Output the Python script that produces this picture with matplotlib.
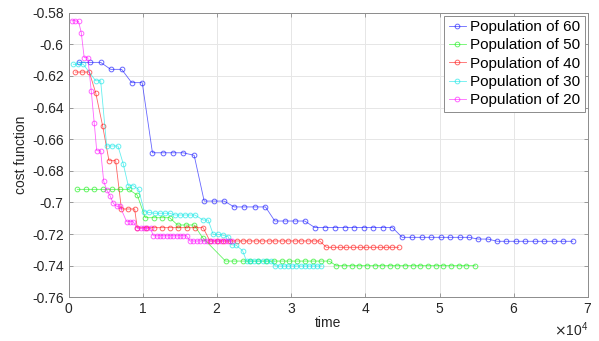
import matplotlib
matplotlib.use("Agg")
import matplotlib.pyplot as plt
from matplotlib.ticker import ScalarFormatter

plt.rcParams['font.family'] = ['Liberation Sans', 'DejaVu Sans']

# time values and cost function per population size
pop60_time = [1410, 2890, 4330, 5680, 7160, 8510, 9930, 11310, 12680, 14110, 15450, 16930,
              18280, 19630, 20970, 22320, 23660, 25100, 26540, 27800, 29140, 30490, 31830,
              33180, 34530, 35870, 37220, 38470, 39820, 41050, 42370, 43640, 44960, 46280,
              47580, 48860, 50140, 51420, 52700, 53950, 55210, 56510, 57770, 59020, 60330,
              61580, 62830, 64140, 65390, 66650, 67950]
pop60_cost = [-0.6115, -0.6115, -0.6115, -0.6159, -0.6159, -0.6243, -0.6243, -0.6686, -0.6686,
              -0.6686, -0.6686, -0.6702, -0.6991, -0.6991, -0.6991, -0.7028, -0.7028, -0.7028,
              -0.7028, -0.7117, -0.7117, -0.7117, -0.7117, -0.7158, -0.7158, -0.7158, -0.7158,
              -0.7158, -0.7158, -0.7158, -0.7158, -0.7158, -0.7220, -0.7220, -0.7220, -0.7220,
              -0.7220, -0.7220, -0.7220, -0.7220, -0.7231, -0.7231, -0.7245, -0.7245, -0.7245,
              -0.7245, -0.7245, -0.7245, -0.7245, -0.7245, -0.7245]

pop50_time = [1180, 2320, 3470, 4640, 5820, 6970, 8100, 9260, 10340, 11470, 12550, 13620,
              14700, 15820, 16930, 18060, 21160, 22320, 23450, 24430, 25510, 26590, 27660,
              28700, 29720, 30800, 31870, 32950, 34030, 35110, 36100, 37120, 38160, 39200,
              40220, 41260, 42290, 43270, 44310, 45330, 46370, 47410, 48430, 49470, 50500,
              51530, 52560, 53600, 54810]
pop50_cost = [-0.6917, -0.6917, -0.6917, -0.6917, -0.6917, -0.6917, -0.6917, -0.6953, -0.7096,
              -0.7096, -0.7096, -0.7096, -0.7142, -0.7142, -0.7142, -0.7222, -0.7370, -0.7370,
              -0.7370, -0.7370, -0.7370, -0.7370, -0.7370, -0.7370, -0.7370, -0.7370, -0.7370,
              -0.7370, -0.7370, -0.7370, -0.7399, -0.7399, -0.7399, -0.7399, -0.7399, -0.7399,
              -0.7399, -0.7399, -0.7399, -0.7399, -0.7399, -0.7399, -0.7399, -0.7399, -0.7399,
              -0.7399, -0.7399, -0.7399, -0.7399]

pop40_time = [920, 1820, 2800, 3660, 4600, 5450, 6350, 7130, 8010, 8910, 9260, 10390, 11510,
              12550, 13660, 14780, 15910, 17030, 18140, 19050, 19950, 20840, 21740, 22640,
              23450, 24340, 25200, 26090, 26950, 27840, 28740, 29590, 30490, 31390, 32280,
              33090, 33850, 34750, 35640, 36540, 37450, 38330, 39240, 40140, 41030, 41930,
              42830, 43640, 44490]
pop40_cost = [-0.6176, -0.6176, -0.6176, -0.6307, -0.6517, -0.6736, -0.6736, -0.7041, -0.7041,
              -0.7041, -0.7159, -0.7159, -0.7159, -0.7159, -0.7159, -0.7159, -0.7159, -0.7159,
              -0.7159, -0.7243, -0.7243, -0.7243, -0.7243, -0.7243, -0.7243, -0.7243, -0.7243,
              -0.7243, -0.7243, -0.7243, -0.7243, -0.7243, -0.7243, -0.7243, -0.7243, -0.7243,
              -0.7243, -0.7283, -0.7283, -0.7283, -0.7283, -0.7283, -0.7283, -0.7283, -0.7283,
              -0.7283, -0.7283, -0.7283, -0.7283]

pop30_time = [650, 1320, 1990, 3660, 4330, 5140, 5900, 6660, 7380, 8050, 8720, 9450, 10200,
              10880, 11600, 12320, 12990, 13660, 14340, 15010, 15680, 16350, 17030, 18140,
              18820, 19490, 20160, 20840, 21510, 21970, 22550, 23450, 23990, 24430, 25010,
              25550, 26140, 26680, 27220, 27890, 28470, 29050, 29590, 30180, 30720, 31300,
              31830, 32410, 32950, 33490, 34080]
pop30_cost = [-0.6127, -0.6127, -0.6127, -0.6231, -0.6231, -0.6643, -0.6643, -0.6643, -0.6757,
              -0.6894, -0.6894, -0.6917, -0.7058, -0.7063, -0.7068, -0.7068, -0.7068, -0.7068,
              -0.7079, -0.7079, -0.7079, -0.7079, -0.7079, -0.7111, -0.7111, -0.7201, -0.7201,
              -0.7207, -0.7216, -0.7268, -0.7268, -0.7304, -0.7370, -0.7370, -0.7370, -0.7370,
              -0.7370, -0.7370, -0.7370, -0.7401, -0.7401, -0.7401, -0.7401, -0.7401, -0.7401,
              -0.7401, -0.7401, -0.7401, -0.7401, -0.7401, -0.7401]

pop20_time = [430, 880, 1350, 1720, 2110, 2600, 3060, 3460, 3800, 4330, 4740, 5140, 5590, 6030,
              6490, 6930, 7830, 8280, 8720, 9260, 9720, 10160, 10610, 11060, 11410, 11870,
              12320, 12760, 13220, 13660, 14110, 14560, 15010, 15450, 15910, 16350, 16820,
              17290, 17760, 18230, 18700, 19170, 19640, 20110, 20580, 21050, 21520, 22000]
pop20_cost = [-0.5852, -0.5852, -0.5856, -0.5928, -0.6085, -0.6085, -0.6295, -0.6496, -0.6673,
              -0.6673, -0.6866, -0.6920, -0.6957, -0.7005, -0.7024, -0.7024, -0.7121, -0.7121,
              -0.7121, -0.7163, -0.7163, -0.7163, -0.7163, -0.7163, -0.7210, -0.7210, -0.7210,
              -0.7210, -0.7210, -0.7210, -0.7210, -0.7210, -0.7210, -0.7210, -0.7210, -0.7243,
              -0.7243, -0.7243, -0.7243, -0.7243, -0.7243, -0.7243, -0.7243, -0.7243, -0.7243,
              -0.7243, -0.7243, -0.7243]

series = [
    (pop60_time, pop60_cost, 'Population of 60', 'b'),
    (pop50_time, pop50_cost, 'Population of 50', 'g'),
    (pop40_time, pop40_cost, 'Population of 40', 'r'),
    (pop30_time, pop30_cost, 'Population of 30', 'c'),
    (pop20_time, pop20_cost, 'Population of 20', 'm'),
]
colors = {'b': '#0000ff', 'g': '#00ee00', 'r': '#ff0000', 'c': '#00e5e5', 'm': '#ff00ff'}

fig = plt.figure(figsize=(5.99, 3.41), dpi=100)
ax = fig.add_axes([0.1144, 0.1276, 0.8672, 0.8357])

for t, c, lab, k in series:
    ax.plot(t, c, '-o', color=colors[k], lw=0.6, alpha=0.6, ms=3.4, mew=0.7,
            mfc='none', label=lab)

ax.set_xlim(0, 70000)
ax.set_ylim(-0.76, -0.58)
ax.set_xticks([0, 10000, 20000, 30000, 40000, 50000, 60000, 70000])
ax.set_yticks([-0.76, -0.74, -0.72, -0.7, -0.68, -0.66, -0.64, -0.62, -0.6, -0.58])
ax.set_yticklabels(['-0.76', '-0.74', '-0.72', '-0.7', '-0.68', '-0.66', '-0.64', '-0.62',
                    '-0.6', '-0.58'])
fmt = ScalarFormatter(useMathText=True)
fmt.set_powerlimits((0, 0))
ax.xaxis.set_major_formatter(fmt)
ax.xaxis.get_offset_text().set_fontsize(10)

ax.grid(True, color='#e6e6e6', lw=0.7)
ax.set_axisbelow(True)
for s in ax.spines.values():
    s.set_color('#8c8c8c')
    s.set_linewidth(0.7)
ax.tick_params(direction='in', length=3, width=0.6, color='#8c8c8c', labelsize=10,
               labelcolor='#262626', top=True, right=True)

ax.set_xlabel('time', fontsize=10, color='#262626', labelpad=0)
ax.set_ylabel('cost function', fontsize=10, color='#262626', labelpad=3)

leg = ax.legend(loc='upper right', fontsize=11, fancybox=False, framealpha=1,
                edgecolor='#8c8c8c', borderaxespad=0.2, handlelength=1.1,
                handletextpad=0.3, borderpad=0.3, labelspacing=0.28)
leg.get_frame().set_linewidth(0.7)

fig.savefig('out.png', dpi=100)
